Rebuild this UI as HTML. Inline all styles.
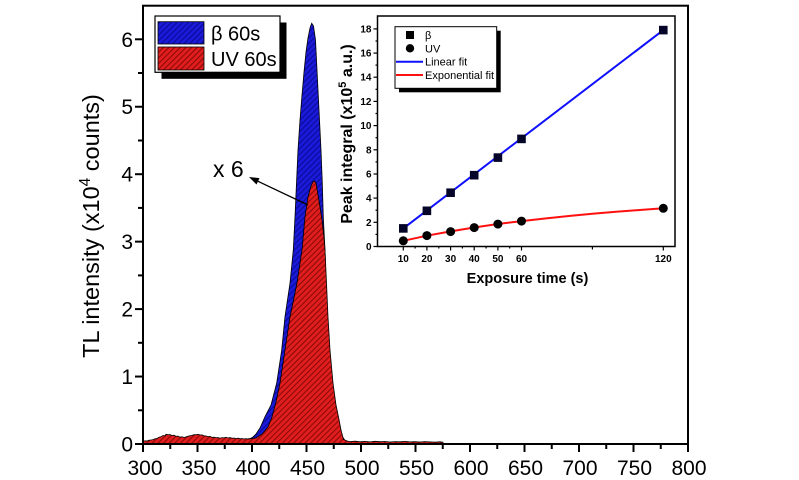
<!DOCTYPE html>
<html>
<head>
<meta charset="utf-8">
<style>
html,body{margin:0;padding:0;background:#fff;}
svg{display:block;}
text{font-family:"Liberation Sans",Arial,sans-serif;}
</style>
</head>
<body>
<svg width="799" height="480" viewBox="0 0 799 480" xmlns="http://www.w3.org/2000/svg">
<defs>
<pattern id="hr" patternUnits="userSpaceOnUse" width="4" height="4" patternTransform="rotate(45)">
<rect width="4" height="4" fill="#e21d1d"/>
<line x1="1" y1="0" x2="1" y2="4" stroke="#8a0a0a" stroke-width="1.1"/>
</pattern>
<pattern id="hb" patternUnits="userSpaceOnUse" width="4" height="4" patternTransform="rotate(45)">
<rect width="4" height="4" fill="#1a1ad8"/>
<line x1="1" y1="0" x2="1" y2="4" stroke="#0a0a9a" stroke-width="1.1"/>
</pattern>
</defs>
<rect width="799" height="480" fill="#fff"/>

<!-- Blue peak -->
<polygon fill="url(#hb)" stroke="#000" stroke-width="0.8" points="
248,444 248,438.8 250,438.7 253,437 256,434 260,428 265,416.7 271,405 276.7,383 281.7,350 285,316.7 290,283 293.3,250 295,216.7 296.5,183 298,150 300,120 302,95 304,72 306,52 308,38 310,28 311.7,23.3 313.5,26 315.5,40 317,70 318.5,100 320,130 321,150 322.3,183 323.3,217 325,250 326,283 327.3,317 329,350 332,383 336,410 339,425 342,436 345,440.5 347,441 350,444"/>

<!-- Red peak with baseline -->
<polygon fill="url(#hr)" stroke="#000" stroke-width="0.8" points="
143,444 143,441.5 145,440.8 147,441 149,440.2 151,440 153,439.6 155,438.8 157,438.5 159,437.2 161,436.8 163,435.5 165,435.8 166,434.2 168,434.8 170,434.5 172,435.6 174,435.2 176,436.4 178,436 180,437.2 182,436.8 184,437.5 186,436.9 188,436.2 190,435.8 192,435.4 194,434.6 196,434.8 198,434.3 200,435 202,434.9 204,435.8 206,436 208,436.6 210,436.4 212,437.4 214,437.1 216,437.8 218,437.5 220,438.2 222,437.6 224,437.9 226,437.3 228,438 230,437.6 232,438.3 234,438 236,438.6 238,438.2 240,438.8 242,438.5 244,439 246,438.6 248,439.1 250,438.7 252,438.6
256,438 262,434 268,427 272,417 276,402 280,383 285,350 290,317 297,283 302,250 305,217 308,197 311,186 313,181.8 314.5,181 316,183 318,195 320,207 322,220 324,238 325,250 326.5,283 328,317 330,350 333,383 336,405 338.5,417 341,430 343.5,439.5 347,441
350,441.6 355,441.2 360,441.8 365,441.4 370,441.9 375,441.3 380,441.7 385,441.5 390,442 395,441.6 400,441.8 405,441.4 410,441.9 415,441.7 420,442 425,441.6 430,441.9 435,442.1 440,441.8 443,442.2 443,444"/>

<!-- Main frame -->
<rect x="143" y="5.7" width="545" height="438.3" fill="none" stroke="#000" stroke-width="2"/>

<!-- Main x ticks -->
<g stroke="#000" stroke-width="2">
<line x1="143" y1="444" x2="143" y2="452"/>
<line x1="197.5" y1="444" x2="197.5" y2="452"/>
<line x1="252" y1="444" x2="252" y2="452"/>
<line x1="306.5" y1="444" x2="306.5" y2="452"/>
<line x1="361" y1="444" x2="361" y2="452"/>
<line x1="415.5" y1="444" x2="415.5" y2="452"/>
<line x1="470" y1="444" x2="470" y2="452"/>
<line x1="524.5" y1="444" x2="524.5" y2="452"/>
<line x1="579" y1="444" x2="579" y2="452"/>
<line x1="633.5" y1="444" x2="633.5" y2="452"/>
<line x1="688" y1="444" x2="688" y2="452"/>
<line x1="170.25" y1="444" x2="170.25" y2="449"/>
<line x1="224.75" y1="444" x2="224.75" y2="449"/>
<line x1="279.25" y1="444" x2="279.25" y2="449"/>
<line x1="333.75" y1="444" x2="333.75" y2="449"/>
<line x1="388.25" y1="444" x2="388.25" y2="449"/>
<line x1="442.75" y1="444" x2="442.75" y2="449"/>
<line x1="497.25" y1="444" x2="497.25" y2="449"/>
<line x1="551.75" y1="444" x2="551.75" y2="449"/>
<line x1="606.25" y1="444" x2="606.25" y2="449"/>
<line x1="660.75" y1="444" x2="660.75" y2="449"/>
<!-- y ticks -->
<line x1="143" y1="444" x2="135" y2="444"/>
<line x1="143" y1="376.55" x2="135" y2="376.55"/>
<line x1="143" y1="309.1" x2="135" y2="309.1"/>
<line x1="143" y1="241.65" x2="135" y2="241.65"/>
<line x1="143" y1="174.2" x2="135" y2="174.2"/>
<line x1="143" y1="106.75" x2="135" y2="106.75"/>
<line x1="143" y1="39.3" x2="135" y2="39.3"/>
<line x1="143" y1="410.3" x2="138" y2="410.3"/>
<line x1="143" y1="342.8" x2="138" y2="342.8"/>
<line x1="143" y1="275.4" x2="138" y2="275.4"/>
<line x1="143" y1="207.9" x2="138" y2="207.9"/>
<line x1="143" y1="140.5" x2="138" y2="140.5"/>
<line x1="143" y1="73" x2="138" y2="73"/>
</g>

<!-- Main x labels -->
<g font-size="21" text-anchor="middle" fill="#000">
<text x="145" y="475">300</text>
<text x="199" y="475">350</text>
<text x="253" y="475">400</text>
<text x="307.5" y="475">450</text>
<text x="362" y="475">500</text>
<text x="416.5" y="475">550</text>
<text x="471" y="475">600</text>
<text x="525.5" y="475">650</text>
<text x="580" y="475">700</text>
<text x="634.5" y="475">750</text>
<text x="689" y="475">800</text>
</g>
<!-- Main y labels -->
<g font-size="21" text-anchor="end" fill="#000">
<text x="133" y="451.5">0</text>
<text x="133" y="384">1</text>
<text x="133" y="316.6">2</text>
<text x="133" y="249.1">3</text>
<text x="133" y="181.7">4</text>
<text x="133" y="114.2">5</text>
<text x="133" y="46.8">6</text>
</g>
<text transform="translate(99,226) rotate(-90)" text-anchor="middle" font-size="23.5" fill="#000">TL intensity (x10<tspan dy="-9" font-size="15.5">4</tspan><tspan dy="9"> counts)</tspan></text>

<!-- Main legend -->
<rect x="161.5" y="22.5" width="125" height="56.3" fill="#000"/>
<rect x="155" y="16" width="125" height="56.3" fill="#fff" stroke="#000" stroke-width="1.2"/>
<rect x="158" y="21.7" width="46" height="22.3" fill="url(#hb)" stroke="#000" stroke-width="0.8"/>
<rect x="158" y="47" width="46" height="23" fill="url(#hr)" stroke="#000" stroke-width="0.8"/>
<text x="211" y="40.5" font-size="20" fill="#000">β 60s</text>
<text x="211" y="66" font-size="20" fill="#000">UV 60s</text>

<!-- x 6 annotation -->
<text x="213" y="177" font-size="23" fill="#000">x 6</text>
<line x1="308" y1="205" x2="258" y2="181.3" stroke="#000" stroke-width="1.3"/>
<polygon points="249,177 259.5,178.1 256.5,184.5" fill="#000"/>

<!-- Inset -->
<rect x="377.5" y="16" width="297.5" height="230.5" fill="#fff" stroke="#000" stroke-width="1.5"/>
<g stroke="#000" stroke-width="1.2">
<line x1="377.5" y1="246.5" x2="373.5" y2="246.5"/>
<line x1="377.5" y1="222.3" x2="373.5" y2="222.3"/>
<line x1="377.5" y1="198.1" x2="373.5" y2="198.1"/>
<line x1="377.5" y1="174" x2="373.5" y2="174"/>
<line x1="377.5" y1="149.8" x2="373.5" y2="149.8"/>
<line x1="377.5" y1="125.6" x2="373.5" y2="125.6"/>
<line x1="377.5" y1="101.4" x2="373.5" y2="101.4"/>
<line x1="377.5" y1="77.2" x2="373.5" y2="77.2"/>
<line x1="377.5" y1="53.1" x2="373.5" y2="53.1"/>
<line x1="377.5" y1="28.9" x2="373.5" y2="28.9"/>
<line x1="377.5" y1="234.4" x2="375.5" y2="234.4"/>
<line x1="377.5" y1="210.2" x2="375.5" y2="210.2"/>
<line x1="377.5" y1="186.1" x2="375.5" y2="186.1"/>
<line x1="377.5" y1="161.9" x2="375.5" y2="161.9"/>
<line x1="377.5" y1="137.7" x2="375.5" y2="137.7"/>
<line x1="377.5" y1="113.5" x2="375.5" y2="113.5"/>
<line x1="377.5" y1="89.3" x2="375.5" y2="89.3"/>
<line x1="377.5" y1="65.1" x2="375.5" y2="65.1"/>
<line x1="377.5" y1="41" x2="375.5" y2="41"/>
<line x1="403.3" y1="246.5" x2="403.3" y2="250.5"/>
<line x1="426.9" y1="246.5" x2="426.9" y2="250.5"/>
<line x1="450.6" y1="246.5" x2="450.6" y2="250.5"/>
<line x1="474.2" y1="246.5" x2="474.2" y2="250.5"/>
<line x1="497.9" y1="246.5" x2="497.9" y2="250.5"/>
<line x1="521.5" y1="246.5" x2="521.5" y2="250.5"/>
<line x1="663.3" y1="246.5" x2="663.3" y2="250.5"/>
<line x1="592.4" y1="246.5" x2="592.4" y2="249.5"/>
<line x1="415.1" y1="246.5" x2="415.1" y2="248.5"/>
<line x1="438.8" y1="246.5" x2="438.8" y2="248.5"/>
<line x1="462.4" y1="246.5" x2="462.4" y2="248.5"/>
<line x1="486.1" y1="246.5" x2="486.1" y2="248.5"/>
<line x1="509.7" y1="246.5" x2="509.7" y2="248.5"/>
</g>
<g font-size="10" font-weight="bold" text-anchor="end" fill="#000">
<text x="371.5" y="250">0</text>
<text x="371.5" y="225.8">2</text>
<text x="371.5" y="201.6">4</text>
<text x="371.5" y="177.5">6</text>
<text x="371.5" y="153.3">8</text>
<text x="371.5" y="129.1">10</text>
<text x="371.5" y="104.9">12</text>
<text x="371.5" y="80.7">14</text>
<text x="371.5" y="56.6">16</text>
<text x="371.5" y="32.4">18</text>
</g>
<g font-size="10" font-weight="bold" text-anchor="middle" fill="#000">
<text x="403.3" y="262">10</text>
<text x="426.9" y="262">20</text>
<text x="450.6" y="262">30</text>
<text x="474.2" y="262">40</text>
<text x="497.9" y="262">50</text>
<text x="521.5" y="262">60</text>
<text x="663.3" y="262">120</text>
</g>
<text x="527.5" y="283" font-size="14.5" font-weight="bold" text-anchor="middle" fill="#000">Exposure time (s)</text>
<text transform="translate(352,134) rotate(-90)" font-size="16" font-weight="bold" text-anchor="middle" fill="#000">Peak integral (x10<tspan dy="-6" font-size="11">5</tspan><tspan dy="6"> a.u.)</tspan></text>

<!-- fits -->
<line x1="403.3" y1="228.4" x2="663.3" y2="30.1" stroke="#1010ff" stroke-width="2"/>
<polyline fill="none" stroke="#ff1010" stroke-width="2" points="403.3,240.8 426.9,235.7 450.6,231.4 474.2,227.5 497.9,224 521.5,221.1 545.1,218.5 568.8,216 592.4,213.8 616.1,211.8 639.7,210 663.3,208.3"/>
<g fill="#05052a">
<rect x="399" y="224.1" width="8.6" height="8.6"/>
<rect x="422.6" y="206.5" width="8.6" height="8.6"/>
<rect x="446.3" y="188.4" width="8.6" height="8.6"/>
<rect x="469.9" y="170.9" width="8.6" height="8.6"/>
<rect x="493.6" y="153.3" width="8.6" height="8.6"/>
<rect x="517.2" y="134.6" width="8.6" height="8.6"/>
<rect x="659" y="25.8" width="8.6" height="8.6"/>
</g>
<g fill="#000">
<circle cx="403.3" cy="240.8" r="4.5"/>
<circle cx="426.9" cy="235.6" r="4.5"/>
<circle cx="450.6" cy="231.6" r="4.5"/>
<circle cx="474.2" cy="227.6" r="4.5"/>
<circle cx="497.9" cy="224.1" r="4.5"/>
<circle cx="521.5" cy="221.1" r="4.5"/>
<circle cx="663.3" cy="208.3" r="4.5"/>
</g>

<!-- inset legend -->
<rect x="399" y="30.7" width="101.7" height="61.6" fill="#000"/>
<rect x="395" y="26.7" width="101.7" height="61.6" fill="#fff" stroke="#000" stroke-width="1"/>
<rect x="406" y="31" width="8" height="8" fill="#000"/>
<circle cx="410" cy="48.3" r="4.2" fill="#000"/>
<line x1="396" y1="61.7" x2="423" y2="61.7" stroke="#1010ff" stroke-width="2"/>
<line x1="396" y1="75" x2="423" y2="75" stroke="#ff1010" stroke-width="2"/>
<g font-size="11" fill="#000">
<text x="425" y="39">β</text>
<text x="425" y="52.5">UV</text>
<text x="425" y="65.7">Linear fit</text>
<text x="425" y="79">Exponential fit</text>
</g>
</svg>
</body>
</html>
